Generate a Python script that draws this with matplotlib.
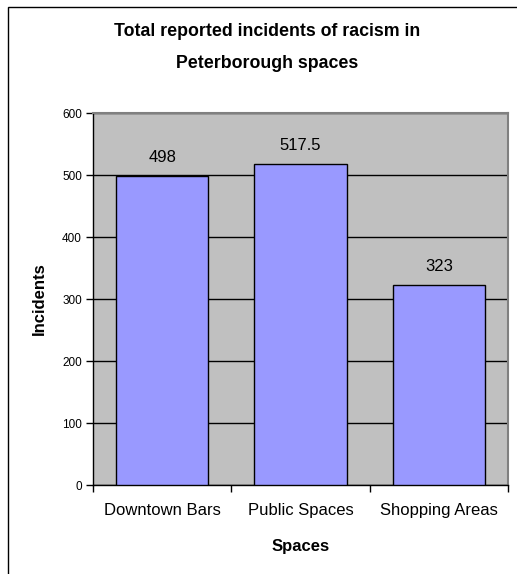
import matplotlib.pyplot as plt
from matplotlib.patches import Rectangle

plt.rcParams['font.family'] = ['Liberation Sans', 'DejaVu Sans']

# Incidents per space
espacos = ['Downtown Bars', 'Public Spaces', 'Shopping Areas']
incidentes = [498, 517.5, 323]
rotulos = ['498', '517.5', '323']
yticks = [0, 100, 200, 300, 400, 500, 600]

fig = plt.figure(figsize=(5.17, 5.74), dpi=100)
fig.patch.set_facecolor('white')

# chart frame (runs off the right and bottom edges)
fig.patches.append(Rectangle((8 / 517, -0.1), 1.2, 1 - 7 / 574 + 0.1,
                             transform=fig.transFigure, fill=False,
                             edgecolor='black', linewidth=1.0))

ax = fig.add_axes([93 / 517, 1 - 485 / 574, 415 / 517, 372 / 574])
ax.set_facecolor('#C0C0C0')

x = range(len(espacos))
ax.bar(x, incidentes, width=0.667, color='#9999FF', edgecolor='black',
       linewidth=1.0, zorder=3)

for i, (v, t) in enumerate(zip(incidentes, rotulos)):
    ax.annotate(t, (i, v), xytext=(0, 8), textcoords='offset points',
                ha='center', va='bottom', fontsize=12)

ax.set_xlim(-0.5, 2.5)
ax.set_ylim(0, 600)
ax.set_yticks(yticks)
ax.set_yticklabels([str(v) for v in yticks], fontsize=8.5)
ax.yaxis.grid(True, color='black', linewidth=1.0, zorder=1)
ax.set_axisbelow(True)

# category ticks between the bars, labels centred on them
ax.set_xticks([-0.5, 0.5, 1.5, 2.5])
ax.set_xticklabels([])
ax.set_xticks(list(x), minor=True)
ax.set_xticklabels(espacos, minor=True, fontsize=12)
ax.tick_params(axis='x', which='minor', length=0, pad=13)
ax.tick_params(axis='x', which='major', length=5, width=1, direction='out')
ax.tick_params(axis='y', length=5, width=1, direction='out', pad=3)

for s in ['top', 'right']:
    ax.spines[s].set_color('#808080')
    ax.spines[s].set_linewidth(1.5)
for s in ['left', 'bottom']:
    ax.spines[s].set_color('black')
    ax.spines[s].set_linewidth(1.0)

ax.set_xlabel('Spaces', fontsize=12, fontweight='bold', labelpad=15)
ax.set_ylabel('Incidents', fontsize=12, fontweight='bold', labelpad=11)

fig.text(267 / 517, 1 - 32 / 574, 'Total reported incidents of racism in',
         ha='center', va='center', fontsize=12.8, fontweight='bold')
fig.text(267 / 517, 1 - 63 / 574, 'Peterborough spaces',
         ha='center', va='center', fontsize=12.8, fontweight='bold')

fig.savefig('out.png', dpi=100)
